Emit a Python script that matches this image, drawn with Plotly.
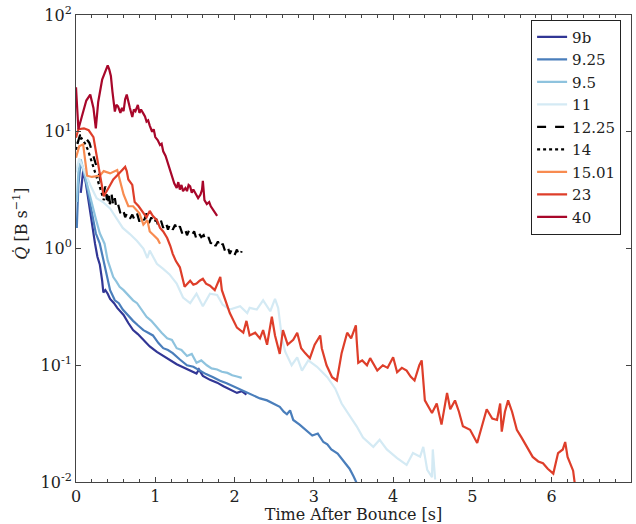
import plotly.graph_objects as go

# ---------------- data ----------------
labels = ["9b", "9.25", "9.5", "11", "12.25", "14", "15.01", "23", "40"]

t_9b = [0.06, 0.09, 0.12, 0.15, 0.18, 0.21, 0.24, 0.27, 0.30, 0.33, 0.345, 0.37, 0.40, 0.43,
        0.48, 0.52, 0.56, 0.60, 0.66, 0.72, 0.78, 0.85, 0.93, 1.02, 1.10, 1.18, 1.27, 1.35,
        1.43, 1.52, 1.55, 1.60, 1.69, 1.78, 1.86, 1.95, 2.03, 2.09, 2.15]
q_9b = [3.0, 4.6, 3.8, 2.8, 2.0, 1.4, 1.1, 0.85, 0.73, 0.53, 0.42, 0.44, 0.41, 0.37,
        0.34, 0.31, 0.29, 0.27, 0.23, 0.20, 0.185, 0.165, 0.145, 0.13, 0.12, 0.11, 0.102, 0.096,
        0.09, 0.085, 0.092, 0.081, 0.075, 0.071, 0.066, 0.062, 0.058, 0.060, 0.056]

t_925 = [0.01, 0.03, 0.06, 0.09, 0.13, 0.17, 0.21, 0.25, 0.30, 0.37, 0.43, 0.49, 0.54, 0.59,
         0.65, 0.72, 0.78, 0.85, 0.91, 0.97, 1.04, 1.10, 1.16, 1.22, 1.31, 1.40, 1.48, 1.56,
         1.64, 1.73, 1.81, 1.90, 1.98, 2.07, 2.15, 2.23, 2.32, 2.41, 2.49, 2.57, 2.62, 2.66,
         2.70, 2.74, 2.82, 2.90, 2.98, 3.05, 3.12, 3.17, 3.22, 3.30, 3.38, 3.45, 3.50, 3.54]
q_925 = [1.5, 3.5, 5.5, 4.8, 3.6, 2.6, 1.9, 1.35, 1.1, 0.69, 0.44, 0.36, 0.34, 0.30,
         0.27, 0.24, 0.22, 0.20, 0.19, 0.18, 0.155, 0.14, 0.135, 0.127, 0.112, 0.10, 0.097, 0.09,
         0.084, 0.079, 0.074, 0.07, 0.066, 0.062, 0.058, 0.055, 0.052, 0.05, 0.047, 0.044, 0.040, 0.038,
         0.041, 0.034, 0.031, 0.028, 0.025, 0.026, 0.022, 0.021, 0.019, 0.0175, 0.015, 0.013, 0.0112, 0.0098]

t_95 = [0.01, 0.03, 0.06, 0.10, 0.15, 0.20, 0.25, 0.30, 0.36, 0.40, 0.44, 0.47, 0.51, 0.55,
        0.60, 0.64, 0.68, 0.72, 0.77, 0.81, 0.85, 0.89, 0.95, 1.02, 1.08, 1.15, 1.21, 1.27,
        1.33, 1.40, 1.46, 1.52, 1.58, 1.65, 1.71, 1.78, 1.84, 1.91, 1.97, 2.03, 2.09]
q_95 = [2.5, 4.5, 5.8, 4.5, 3.2, 2.4, 1.8, 1.35, 1.1, 0.79, 0.66, 0.57, 0.52, 0.47,
        0.44, 0.41, 0.39, 0.36, 0.34, 0.31, 0.28, 0.26, 0.24, 0.21, 0.19, 0.17, 0.165, 0.14,
        0.135, 0.12, 0.125, 0.105, 0.11, 0.10, 0.094, 0.092, 0.088, 0.086, 0.082, 0.080, 0.078]

t_11 = [0.00, 0.04, 0.09, 0.18, 0.26, 0.34, 0.43, 0.52, 0.59, 0.68, 0.77, 0.85, 0.90, 0.93,
        1.02, 1.10, 1.18, 1.27, 1.35, 1.44, 1.52, 1.60, 1.69, 1.78, 1.85, 1.94, 2.07, 2.16,
        2.19, 2.28, 2.36, 2.45, 2.51, 2.55, 2.60, 2.64, 2.72, 2.79, 2.85, 2.93, 3.04, 3.17,
        3.27, 3.35, 3.46, 3.54, 3.62, 3.75, 3.83, 3.92, 4.05, 4.17, 4.25, 4.34, 4.38, 4.43,
        4.49, 4.50, 4.53]
q_11 = [4.5, 5.9, 4.9, 3.5, 2.7, 2.5, 2.2, 1.75, 1.5, 1.33, 1.16, 1.0, 0.83, 0.96,
        0.74, 0.67, 0.60, 0.50, 0.38, 0.34, 0.41, 0.32, 0.41, 0.40, 0.33, 0.30, 0.32, 0.28,
        0.31, 0.30, 0.36, 0.29, 0.37, 0.31, 0.165, 0.13, 0.10, 0.117, 0.09, 0.11, 0.097, 0.079,
        0.063, 0.047, 0.036, 0.030, 0.024, 0.020, 0.023, 0.019, 0.016, 0.014, 0.0177, 0.0165, 0.020, 0.0127,
        0.011, 0.019, 0.0105]

t_1225 = [0.02, 0.05, 0.09, 0.13, 0.17, 0.21, 0.25, 0.29, 0.32, 0.35,
          0.37, 0.39, 0.41, 0.43, 0.45, 0.47, 0.49, 0.51, 0.53,
          0.56, 0.59, 0.62, 0.65, 0.68, 0.71, 0.74, 0.77, 0.80, 0.83,
          0.86, 0.89, 0.92, 0.95, 0.98, 1.01, 1.04, 1.07, 1.10, 1.13,
          1.16, 1.19, 1.22, 1.25, 1.28, 1.31, 1.34, 1.37, 1.40, 1.43,
          1.46, 1.49, 1.52, 1.55, 1.58, 1.61, 1.64, 1.67, 1.70, 1.73,
          1.76, 1.79, 1.82, 1.85, 1.88, 1.91, 1.94, 1.97, 2.00, 2.03,
          2.06, 2.09]
q_1225 = [8.0, 9.3, 9.5, 8.6, 8.0, 6.5, 5.3, 4.3, 3.5, 3.0,
          3.4, 2.6, 3.1, 2.4, 2.9, 2.3, 2.7, 2.2, 2.4,
          2.0, 2.2, 1.85, 2.05, 1.8, 1.95, 1.75, 2.0, 1.7, 1.9,
          1.75, 2.0, 1.65, 1.85, 1.6, 1.8, 1.55, 1.75, 1.5, 1.7,
          1.45, 1.65, 1.45, 1.6, 1.4, 1.55, 1.35, 1.5, 1.3, 1.45,
          1.3, 1.4, 1.2, 1.35, 1.25, 1.3, 1.15, 1.25, 1.1, 1.2,
          1.05, 1.15, 1.0, 1.1, 0.95, 1.05, 0.9, 1.0, 0.88, 0.98,
          0.85, 0.95]

t_14 = [0.00, 0.03, 0.07, 0.11, 0.15, 0.19, 0.23, 0.27, 0.31, 0.35, 0.39, 0.42, 0.45]
q_14 = [7.0, 8.5, 8.8, 8.0, 7.0, 5.8, 4.8, 3.8, 3.2, 2.6, 2.9, 2.4, 2.6]

t_1501 = [0.00, 0.04, 0.09, 0.12, 0.14, 0.20, 0.30, 0.35, 0.43, 0.52, 0.55, 0.60, 0.66, 0.72,
          0.80, 0.85, 0.90, 0.93, 0.98, 1.03, 1.06]
q_1501 = [6.0, 7.5, 7.8, 5.0, 4.2, 4.1, 4.2, 4.6, 4.4, 4.7, 3.9, 2.9, 2.3, 2.3,
          2.0, 1.6, 1.75, 1.4, 1.3, 1.2, 1.1]

t_23 = [0.00, 0.03, 0.10, 0.16, 0.22, 0.26, 0.30, 0.33, 0.35, 0.41, 0.47, 0.53, 0.59, 0.62,
        0.64, 0.66, 0.71, 0.74, 0.79, 0.83, 0.89, 0.93, 0.97, 1.02, 1.06, 1.10, 1.15, 1.19,
        1.22, 1.26, 1.31, 1.37, 1.44, 1.48, 1.52, 1.56, 1.60, 1.64, 1.69, 1.75, 1.82, 1.84,
        1.90, 1.94, 2.03, 2.11, 2.15, 2.19, 2.26, 2.32, 2.36, 2.41, 2.47, 2.51, 2.57, 2.61,
        2.67, 2.74, 2.79, 2.84, 2.89, 2.95, 3.01, 3.08, 3.10, 3.16, 3.23, 3.29, 3.35, 3.42,
        3.47, 3.53, 3.54, 3.56, 3.61, 3.67, 3.71, 3.76, 3.80, 3.87, 3.93, 4.00, 4.05, 4.11,
        4.17, 4.22, 4.27, 4.33, 4.36, 4.40, 4.45, 4.49, 4.55, 4.61, 4.68, 4.72, 4.78, 4.83,
        4.88, 4.97, 5.06, 5.12, 5.18, 5.25, 5.31, 5.35, 5.37, 5.41, 5.45, 5.50, 5.56, 5.62,
        5.69, 5.76, 5.83, 5.89, 5.95, 6.02, 6.08, 6.14, 6.17, 6.20, 6.27, 6.29]
q_23 = [8.9, 10.5, 10.7, 10.3, 9.0, 6.3, 4.6, 3.3, 2.8, 3.3, 3.9, 4.3, 4.7, 5.0,
        4.6, 3.9, 3.5, 2.5, 2.3, 2.1, 1.85, 2.1, 1.9, 1.75, 1.5, 1.4, 1.23, 1.05,
        0.9, 0.78, 0.69, 0.47, 0.53, 0.49, 0.50, 0.53, 0.55, 0.50, 0.48, 0.44, 0.57, 0.44,
        0.34, 0.28, 0.21, 0.19, 0.24, 0.18, 0.19, 0.17, 0.20, 0.15, 0.26, 0.18, 0.125, 0.20,
        0.15, 0.165, 0.19, 0.14, 0.127, 0.115, 0.15, 0.18, 0.14, 0.10, 0.079, 0.074, 0.127, 0.19,
        0.17, 0.22, 0.165, 0.105, 0.11, 0.10, 0.115, 0.10, 0.09, 0.10, 0.095, 0.117, 0.087, 0.095,
        0.09, 0.08, 0.074, 0.10, 0.11, 0.05, 0.043, 0.039, 0.047, 0.031, 0.058, 0.042, 0.05, 0.04,
        0.03, 0.028, 0.0216, 0.03, 0.042, 0.035, 0.034, 0.047, 0.027, 0.04, 0.05, 0.04, 0.028, 0.024,
        0.02, 0.0164, 0.015, 0.0145, 0.013, 0.0118, 0.0177, 0.019, 0.022, 0.0164, 0.0125, 0.0098]

t_40 = [0.00, 0.01, 0.03, 0.08, 0.13, 0.18, 0.22, 0.25, 0.28, 0.33,
        0.37, 0.40, 0.42, 0.44, 0.46, 0.49, 0.51, 0.53, 0.56, 0.58,
        0.60, 0.62, 0.64, 0.66, 0.68, 0.71, 0.73, 0.75, 0.78, 0.80,
        0.82, 0.85, 0.87, 0.89, 0.91, 0.93, 0.96, 0.98, 1.00, 1.03,
        1.06, 1.08, 1.10, 1.13, 1.15, 1.18, 1.21, 1.24, 1.27, 1.29,
        1.31, 1.33, 1.35, 1.38, 1.40, 1.42, 1.44, 1.46, 1.48, 1.51,
        1.54, 1.57, 1.59, 1.60, 1.62, 1.65, 1.68, 1.70, 1.72, 1.74,
        1.76, 1.78]
q_40 = [24, 18, 10.5, 14, 18.5, 20.8, 16, 10.7, 18, 28,
        33, 37, 34, 30, 22, 14.9, 17, 16.5, 14.5, 16,
        15, 19, 20.8, 17.5, 16, 13.4, 15.5, 15, 17, 14.5,
        15.5, 14.3, 13.5, 12.2, 12.5, 11.3, 10, 10.5, 9, 8.5,
        7.7, 7.9, 6.8, 6.2, 5.6, 4.8, 4.0, 3.6, 3.3, 3.7,
        3.2, 3.5, 3.1, 3.3, 3.1, 3.5, 3.4, 3.0, 3.2, 2.9,
        2.7, 2.9, 3.2, 3.8, 2.6, 2.4, 2.5, 2.3, 2.2, 2.1,
        2.0, 1.9]

series_t = [t_9b, t_925, t_95, t_11, t_1225, t_14, t_1501, t_23, t_40]
series_q = [q_9b, q_925, q_95, q_11, q_1225, q_14, q_1501, q_23, q_40]
colors = ["#313695", "#4a7ebb", "#8ec3de", "#d4eaf4", "#000000", "#000000",
          "#f88b50", "#de3e2a", "#a8072a"]
dashes = ["solid", "solid", "solid", "solid", "dash", "dot", "solid", "solid", "solid"]

x_ticks = [0, 1, 2, 3, 4, 5, 6, 7]
y_ticks = [0.01, 0.1, 1, 10, 100]
y_ticktext = ["10<sup>-2</sup>", "10<sup>-1</sup>", "10<sup>0</sup>", "10<sup>1</sup>", "10<sup>2</sup>"]

FONT = "DejaVu Serif"
AXCOL = "#444444"

fig = go.Figure()
for lab, tt, qq, c, d in zip(labels, series_t, series_q, colors, dashes):
    fig.add_trace(go.Scatter(x=tt, y=qq, mode="lines", name=lab,
                             line=dict(color=c, width=2.2, dash=d)))

fig.update_layout(
    width=636, height=524,
    margin=dict(l=76, r=4, t=13, b=42),
    paper_bgcolor="white", plot_bgcolor="white",
    font=dict(family=FONT, size=16, color="#222222"),
    showlegend=True,
    legend=dict(x=0.82, y=0.99, xanchor="left", yanchor="top",
                bgcolor="white", bordercolor="#222222", borderwidth=1,
                font=dict(family=FONT, size=15, color="#222222"),
                tracegroupgap=0),
    xaxis=dict(range=[0, 7], tickvals=x_ticks, ticks="inside", ticklen=5,
               tickcolor=AXCOL, showline=True, linecolor=AXCOL, linewidth=1,
               mirror="allticks", showgrid=False, zeroline=False,
               minor=dict(dtick=0.2, ticks="inside", ticklen=3, tickcolor=AXCOL, showgrid=False),
               title=dict(text="Time After Bounce [s]", font=dict(family=FONT, size=16), standoff=3),
               tickfont=dict(family=FONT, size=16)),
    yaxis=dict(type="log", range=[-2, 2], tickmode="array", tickvals=y_ticks,
               ticktext=y_ticktext, ticks="inside", ticklen=5, tickcolor=AXCOL,
               showline=True, linecolor=AXCOL, linewidth=1, mirror="allticks",
               showgrid=False, zeroline=False,
               tickfont=dict(family=FONT, size=16)),
    annotations=[dict(text="<i>Q\u0307</i> [B s<sup>\u22121</sup>]", xref="paper", yref="paper",
                      x=-0.1, y=0.552, xanchor="center", yanchor="middle",
                      textangle=-90, showarrow=False,
                      font=dict(family=FONT, size=16, color="#222222"))],
)

fig.write_html("out.html")
